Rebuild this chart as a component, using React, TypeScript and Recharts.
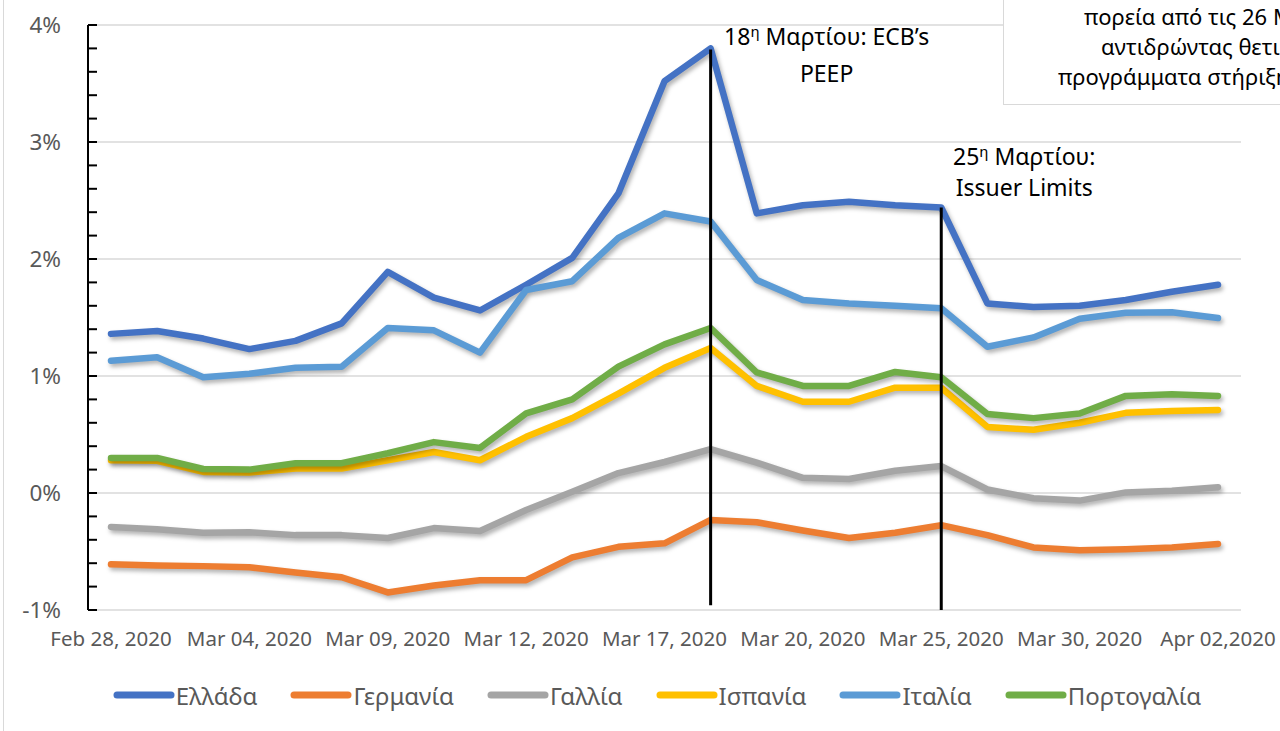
import React from "react";
import { LineChart, Line, XAxis, YAxis, CartesianGrid, ReferenceLine, Legend } from "recharts";

const dates = [
    "Feb 28, 2020", "Mar 02, 2020", "Mar 03, 2020", "Mar 04, 2020", "Mar 05, 2020",
    "Mar 06, 2020", "Mar 09, 2020", "Mar 10, 2020", "Mar 11, 2020", "Mar 12, 2020",
    "Mar 13, 2020", "Mar 16, 2020", "Mar 17, 2020", "Mar 18, 2020", "Mar 19, 2020",
    "Mar 20, 2020", "Mar 23, 2020", "Mar 24, 2020", "Mar 25, 2020", "Mar 26, 2020",
    "Mar 27, 2020", "Mar 30, 2020", "Mar 31, 2020", "Apr 01, 2020", "Apr 02,2020",
];

// 10y spreads, in %
const greece = [1.36, 1.385, 1.32, 1.23, 1.30, 1.45, 1.89, 1.67, 1.56, 1.78, 2.01, 2.56, 3.52, 3.80, 2.39, 2.46, 2.49, 2.46, 2.44, 1.62, 1.59, 1.60, 1.65, 1.72, 1.78];
const germany = [-0.61, -0.62, -0.625, -0.635, -0.68, -0.72, -0.85, -0.79, -0.745, -0.745, -0.55, -0.46, -0.43, -0.23, -0.25, -0.32, -0.385, -0.34, -0.275, -0.36, -0.465, -0.49, -0.48, -0.465, -0.435];
const france = [-0.29, -0.31, -0.34, -0.335, -0.36, -0.36, -0.385, -0.30, -0.325, -0.145, 0.01, 0.17, 0.265, 0.375, 0.26, 0.13, 0.12, 0.19, 0.23, 0.03, -0.045, -0.065, 0.005, 0.02, 0.05];
const spain = [0.28, 0.275, 0.18, 0.175, 0.21, 0.21, 0.28, 0.35, 0.28, 0.48, 0.64, 0.85, 1.07, 1.24, 0.915, 0.78, 0.78, 0.90, 0.90, 0.565, 0.54, 0.60, 0.685, 0.70, 0.71];
const italy = [1.13, 1.16, 0.99, 1.02, 1.07, 1.08, 1.41, 1.39, 1.20, 1.735, 1.81, 2.18, 2.39, 2.32, 1.82, 1.65, 1.62, 1.60, 1.58, 1.25, 1.33, 1.49, 1.54, 1.545, 1.495];
const portugal = [0.30, 0.30, 0.205, 0.20, 0.255, 0.255, 0.34, 0.435, 0.385, 0.68, 0.80, 1.08, 1.27, 1.41, 1.03, 0.915, 0.915, 1.035, 0.99, 0.675, 0.64, 0.68, 0.83, 0.845, 0.83];

const yTicks = [-1, -0.8, -0.6, -0.4, -0.2, 0, 0.2, 0.4, 0.6, 0.8, 1, 1.2, 1.4, 1.6, 1.8, 2, 2.2, 2.4, 2.6, 2.8, 3, 3.2, 3.4, 3.6, 3.8, 4];
const gridValues = [-1, 0, 1, 2, 3, 4];

const series = [
    { key: "gr", name: "Ελλάδα", color: "#4472C4", values: greece },
    { key: "de", name: "Γερμανία", color: "#ED7D31", values: germany },
    { key: "fr", name: "Γαλλία", color: "#A5A5A5", values: france },
    { key: "es", name: "Ισπανία", color: "#FFC000", values: spain },
    { key: "it", name: "Ιταλία", color: "#5B9BD5", values: italy },
    { key: "pt", name: "Πορτογαλία", color: "#70AD47", values: portugal },
];

const data = dates.map((date, i) => {
    const row: any = { date };
    series.forEach(s => { row[s.key] = s.values[i]; });
    return row;
});

const AXIS_X = 88;
const FONT = "'Noto Sans', sans-serif";

function YTick({ y, payload }: any) {
    const v = payload.value;
    const major = Math.abs(v - Math.round(v)) < 1e-6;
    return (
        <g>
            <line x1={AXIS_X} x2={AXIS_X + 9} y1={y} y2={y} stroke="#000" strokeWidth={2} />
            {major && (
                <text x={AXIS_X - 27} y={y} dy="0.36em" textAnchor="end" fill="#595959" fontSize={22.5}>
                    {`${Math.round(v)}%`}
                </text>
            )}
        </g>
    );
}

function LegendContent() {
    return (
        <div style={{ display: "flex", justifyContent: "center", alignItems: "center", height: 60, gap: 33, paddingLeft: 34, fontFamily: FONT }}>
            {series.map(s => (
                <div key={s.key} style={{ display: "flex", alignItems: "center" }}>
                    <svg width={62} height={10}>
                        <line x1={4} x2={58} y1={5} y2={5} stroke={s.color} strokeWidth={7} strokeLinecap="round" />
                    </svg>
                    <span style={{ fontSize: 24, color: "#595959", marginLeft: 1 }}>{s.name}</span>
                </div>
            ))}
        </div>
    );
}

function Annotation({ viewBox, day, rest, second, dx, y1, y2 }: any) {
    const cx = viewBox.x + dx;
    return (
        <g fontSize={23} fill="#000">
            <text x={cx} y={viewBox.y + y1} textAnchor="middle">
                {day}
                <tspan fontSize={15} dy={-8}>η</tspan>
                <tspan dy={8}>{rest}</tspan>
            </text>
            <text x={cx} y={viewBox.y + y2} textAnchor="middle">{second}</text>
        </g>
    );
}

export default function App() {
    return (
        <div style={{ position: "absolute", left: 0, top: 0, width: 1280, height: 731, overflow: "hidden", background: "#fff", fontFamily: FONT }}>
            <style>{`.recharts-line-curve{filter:drop-shadow(2px 3px 2px rgba(0,0,0,0.3));}`}</style>
            <div style={{ position: "absolute", left: 3, top: 0, width: 0, height: 731, borderLeft: "1px solid #D9D9D9" }} />
            <LineChart width={1280} height={731} data={data} margin={{ top: 25, right: 39, bottom: 6, left: 0 }}>
                <CartesianGrid horizontal vertical={false} horizontalValues={gridValues} stroke="#D9D9D9" strokeWidth={1.3} />
                <XAxis
                    dataKey="date"
                    interval={2}
                    padding={{ left: 23, right: 23 }}
                    axisLine={false}
                    tickLine={false}
                    tickSize={0}
                    tickMargin={21}
                    height={55}
                    tick={{ fontSize: 20.5, fill: "#595959" }}
                />
                <YAxis
                    type="number"
                    domain={[-1, 4]}
                    ticks={yTicks}
                    interval={0}
                    width={88}
                    axisLine={{ stroke: "#000", strokeWidth: 2 }}
                    tickLine={false}
                    tick={<YTick />}
                />
                {series.map(s => (
                    <Line
                        key={s.key}
                        dataKey={s.key}
                        name={s.name}
                        stroke={s.color}
                        strokeWidth={6.5}
                        strokeLinecap="round"
                        strokeLinejoin="round"
                        dot={false}
                        activeDot={false}
                        isAnimationActive={false}
                    />
                ))}
                <ReferenceLine
                    segment={[{ x: "Mar 18, 2020", y: 3.79 }, { x: "Mar 18, 2020", y: -0.96 }]}
                    stroke="#000"
                    strokeWidth={3}
                    label={(p: any) => <Annotation viewBox={p.viewBox} day="18" rest=" Μαρτίου: ECB’s" second="PEEP" dx={116} y1={-5} y2={32} />}
                />
                <ReferenceLine
                    segment={[{ x: "Mar 25, 2020", y: 2.44 }, { x: "Mar 25, 2020", y: -1 }]}
                    stroke="#000"
                    strokeWidth={3}
                    label={(p: any) => <Annotation viewBox={p.viewBox} day="25" rest=" Μαρτίου:" second="Issuer Limits" dx={83} y1={-43} y2={-12} />}
                />
                <Legend verticalAlign="bottom" content={<LegendContent />} wrapperStyle={{ left: 0, width: 1280 }} />
            </LineChart>
            <div style={{ position: "absolute", left: 1003, top: -10, width: 400, height: 113, background: "#fff", border: "1.5px solid #D9D9D9", fontSize: 22, color: "#000", lineHeight: "30px" }}>
                <div style={{ position: "absolute", left: 80, top: 10, whiteSpace: "nowrap" }}>πορεία από τις 26 Μαρτίου</div>
                <div style={{ position: "absolute", left: 97, top: 40, whiteSpace: "nowrap" }}>αντιδρώντας θετικά στα</div>
                <div style={{ position: "absolute", left: 54, top: 70, whiteSpace: "nowrap" }}>προγράμματα στήριξης</div>
            </div>
        </div>
    );
}
